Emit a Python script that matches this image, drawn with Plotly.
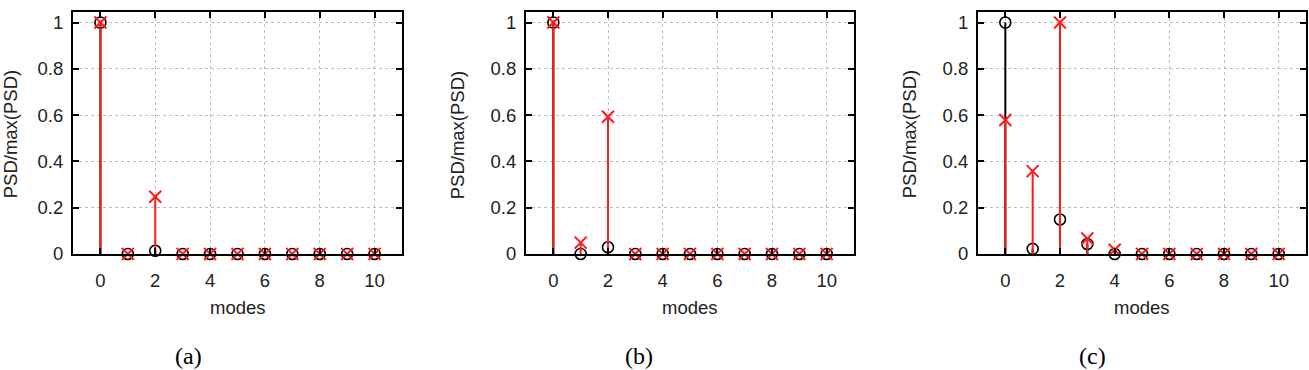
import plotly.graph_objects as go

modes = list(range(11))
black_a = [1.0, 0, 0.014, 0, 0, 0, 0, 0, 0, 0, 0]
red_a = [1.0, 0, 0.247, 0, 0, 0, 0, 0, 0, 0, 0]
black_b = [1.0, 0, 0.029, 0, 0, 0, 0, 0, 0, 0, 0]
red_b = [1.0, 0.049, 0.593, 0, 0, 0, 0, 0, 0, 0, 0]
black_c = [1.0, 0.022, 0.149, 0.043, 0, 0, 0, 0, 0, 0, 0]
red_c = [0.579, 0.358, 1.0, 0.067, 0.018, 0, 0, 0, 0, 0, 0]
captions = ["(a)", "(b)", "(c)"]
x_ticks = [0, 2, 4, 6, 8, 10]
y_ticks = [0, 0.2, 0.4, 0.6, 0.8, 1]
y_tick_text = ["0", "0.2", "0.4", "0.6", "0.8", "1"]

W, H = 1309, 370
panels = [(black_a, red_a), (black_b, red_b), (black_c, red_c)]
x_px = [(73, 402), (526, 854), (978, 1306)]
ytitle_px = [10, 457, 909]
cap_px = [188, 639, 1092]
top_px, bot_px = 12, 261

FONT = "Liberation Sans, Arial, sans-serif"
FS = 18.5
fig = go.Figure()

for i, (blk, red) in enumerate(panels):
    n = "" if i == 0 else str(i + 1)
    xa, ya = "x" + n, "y" + n
    fig.add_trace(go.Scatter(
        x=modes, y=blk, mode="markers", xaxis=xa, yaxis=ya,
        marker=dict(symbol="circle-open", size=11, color="black",
                    line=dict(width=1.6, color="black")),
        error_y=dict(type="data", symmetric=False, array=[0] * len(blk),
                     arrayminus=blk, width=0, thickness=2, color="black"),
        showlegend=False, cliponaxis=False))
    fig.add_trace(go.Scatter(
        x=modes, y=red, mode="markers", xaxis=xa, yaxis=ya,
        marker=dict(symbol="x-thin-open", size=12, color="#ff1a1a",
                    line=dict(width=2, color="#ff1a1a")),
        error_y=dict(type="data", symmetric=False, array=[0] * len(red),
                     arrayminus=red, width=0, thickness=2, color="#ff1a1a"),
        showlegend=False, cliponaxis=False))

    axis_common = dict(showline=True, linewidth=2, linecolor="black", mirror="ticks",
                       ticks="inside", ticklen=6, tickwidth=1.5, tickcolor="black",
                       showgrid=True, gridcolor="#bdbdbd", gridwidth=1, griddash="3px,3px",
                       zeroline=False, tickfont=dict(family=FONT, size=FS, color="#222"))
    fig.layout["xaxis" + n] = dict(
        axis_common, domain=[x_px[i][0] / W, x_px[i][1] / W], range=[-1, 11],
        tickvals=x_ticks, anchor=ya, ticklabelstandoff=9)
    fig.layout["yaxis" + n] = dict(
        axis_common, domain=[1 - bot_px / H, 1 - top_px / H], range=[0, 1.047],
        tickvals=y_ticks, ticktext=y_tick_text, anchor=xa, ticklabelstandoff=4)

    fig.add_annotation(text="PSD/max(PSD)", xref="paper", yref="paper",
                       x=ytitle_px[i] / W, y=1 - 138 / H, textangle=-90,
                       showarrow=False, xanchor="center", yanchor="middle",
                       font=dict(family=FONT, size=FS, color="#222"))
    fig.add_annotation(text="modes", xref="paper", yref="paper",
                       x=(x_px[i][0] + x_px[i][1]) / 2 / W, y=1 - 316 / H,
                       showarrow=False, xanchor="center", yanchor="middle",
                       font=dict(family=FONT, size=FS, color="#222"))
    fig.add_annotation(text=captions[i], xref="paper", yref="paper",
                       x=cap_px[i] / W, y=0, yshift=-11,
                       showarrow=False, xanchor="center", yanchor="bottom",
                       font=dict(family="Liberation Serif, Times New Roman, serif",
                                 size=24, color="black"))

fig.update_layout(width=W, height=H, margin=dict(l=0, r=0, t=0, b=0),
                  paper_bgcolor="white", plot_bgcolor="white")
fig.write_html("out.html")
